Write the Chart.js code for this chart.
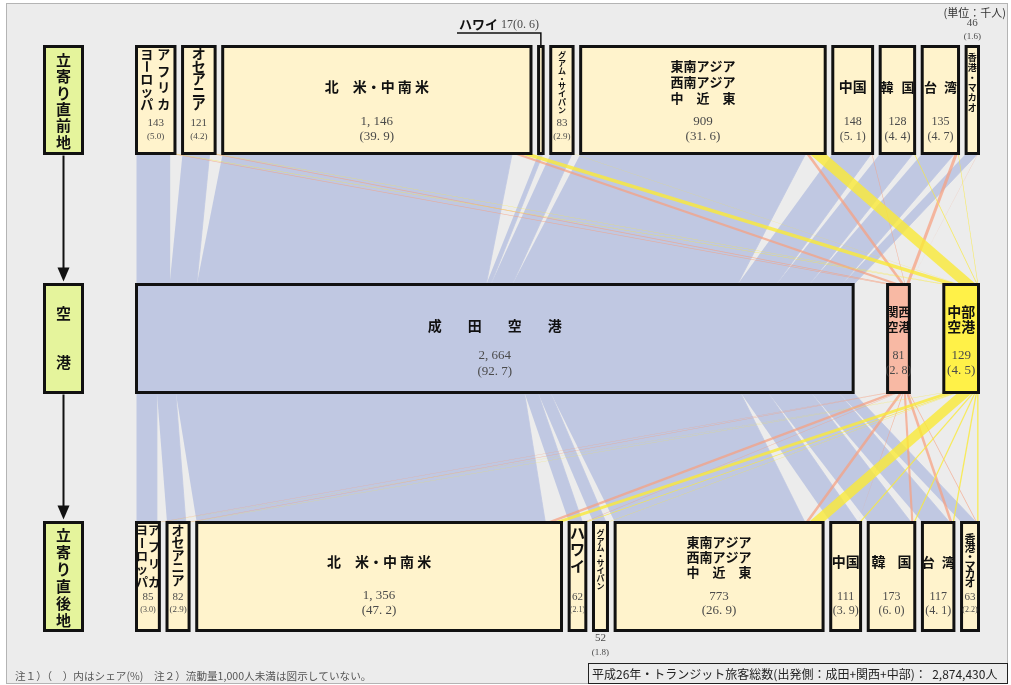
<!DOCTYPE html>
<html><head><meta charset="utf-8">
<script src="https://cdn.jsdelivr.net/npm/chart.js@4.4.1/dist/chart.umd.min.js"></script>
<style>
html,body{margin:0;padding:0;background:#fff;}
#frame{position:absolute;left:6px;top:3px;width:1002px;height:681px;background:#ececec;border:1px solid #b4b4b4;box-sizing:border-box;}
#wrap{position:absolute;left:0;top:0;width:1011px;height:685px;}
</style></head><body>
<div id="frame"></div>
<div id="wrap"><canvas id="c"></canvas></div>
<script>
// ===== DATA (unit: thousand persons) =====
const regions = ['アフリカ・ヨーロッパ','オセアニア','北米・中南米','ハワイ','グアム・サイパン','東南アジア・西南アジア・中近東','中国','韓国','台湾','香港・マカオ'];
const beforeTotals = [143,121,1146,17,83,909,148,128,135,46];
const beforeShares = [5.0,4.2,39.9,0.6,2.9,31.6,5.1,4.4,4.7,1.6];
const airports = ['成田空港','関西空港','中部空港'];
const airportTotals = [2664,81,129];
const airportShares = [92.7,2.8,4.5];
const afterTotals = [85,82,1356,62,52,773,111,173,117,63];
const afterShares = [3.0,2.9,47.2,2.1,1.8,26.9,3.9,6.0,4.1,2.2];
// estimated flows: region (before) -> airport
const inNarita = [123,101,1076,17,80,837,144,123,121,44];
const inKansai = [12,14,25,0,1,12,2,2,12,1];
const inChubu  = [8,6,45,0,2,60,2,3,2,1];
// estimated flows: airport -> region (after)
const outNarita = [76,70,1296,50,47,706,102,160,102,55];
const outKansai = [6,8,25,4,2,12,3,8,10,3];
const outChubu  = [3,4,35,8,3,55,6,5,5,5];
const totalPassengers = 2874430;

// ===== LAYOUT =====
const ROW_SPAN = 3130;
const PX_LEFT = 136.5, PX_RIGHT = 978.5;
const KPX = (PX_RIGHT - PX_LEFT) / ROW_SPAN;
const X_MIN = -PX_LEFT / KPX, X_MAX = (1011 - PX_LEFT) / KPX;
const pxToU = px => (px - PX_LEFT) / KPX;
const ROWS = { top:[46.5,153.5], mid:[284.5,392.5], bot:[522.5,630.5] };

function layoutRow(values){
  const sum = values.reduce((a,b)=>a+b,0);
  const gap = (ROW_SPAN - sum) / (values.length - 1);
  let x = 0;
  return values.map(v => { const r = {x0:x, x1:x+v}; x += v + gap; return r; });
}
const topBoxes = layoutRow(beforeTotals);
const midBoxes = layoutRow(airportTotals);
const botBoxes = layoutRow(afterTotals);

const COLORS = { cream:'#fff3cc', narita:'#c0c8e2', kansai:'#f8b9a4', chubu:'#fff148', green:'#e5f49c' };
const airportFill = [COLORS.narita, COLORS.kansai, COLORS.chubu];
const flowColors = ['#c0c8e2','rgba(247,160,128,0.72)','rgba(250,234,55,0.8)'];

function poly(pts, a){
  return {data:pts.map(([x,y])=>({x,y})), showLine:true, fill:'shape', backgroundColor:flowColors[a],
    borderColor:flowColors[a], borderWidth:a===0?0.8:0, pointRadius:0, pointHoverRadius:0};
}
function rect(x0,x1,y0,y1,fill,bw){
  return {data:[{x:x0,y:y0},{x:x1,y:y0},{x:x1,y:y1},{x:x0,y:y1},{x:x0,y:y0}], showLine:true, fill:'shape',
    backgroundColor:fill, borderColor:'#111', borderWidth:bw||3, borderJoinStyle:'miter', borderCapStyle:'square',
    pointRadius:0, pointHoverRadius:0};
}

const inFlows = [inNarita, inKansai, inChubu];
const outFlows = [outNarita, outKansai, outChubu];
const flowLayers = [[],[],[]];
function band(regionBoxes, flows, yRegion, yAirport){
  const cur = midBoxes.map(b=>b.x0);
  regionBoxes.forEach((box,i)=>{
    let c = box.x0;
    flows.forEach((f,a)=>{
      const v = f[i];
      if (v > 0) flowLayers[a].push(poly([[c,yRegion],[c+v,yRegion],[cur[a]+v,yAirport],[cur[a],yAirport]], a));
      c += v; cur[a] += v;
    });
  });
}
band(topBoxes, inFlows, ROWS.top[1], ROWS.mid[0]);
band(botBoxes, outFlows, ROWS.bot[0], ROWS.mid[1]);

const drawList = [...flowLayers[0], ...flowLayers[1], ...flowLayers[2]];
topBoxes.forEach(b=>drawList.push(rect(b.x0,b.x1,ROWS.top[0],ROWS.top[1],COLORS.cream)));
midBoxes.forEach((b,a)=>drawList.push(rect(b.x0,b.x1,ROWS.mid[0],ROWS.mid[1],airportFill[a])));
botBoxes.forEach(b=>drawList.push(rect(b.x0,b.x1,ROWS.bot[0],ROWS.bot[1],COLORS.cream)));
const GREEN_X = [pxToU(44.5), pxToU(82.5)];
[ROWS.top, ROWS.mid, ROWS.bot].forEach(r=>drawList.push(rect(GREEN_X[0],GREEN_X[1],r[0],r[1],COLORS.green)));
const datasets = drawList.slice().reverse(); // first dataset is drawn on top

// ===== LABEL SPECS =====
const TOP_LABELS = [
 {type:'v2', cols:[['アフリカ',8],['ヨーロッパ',-9]], y:[54,104], size:13, numY:[123,137], numSize:[11,9], compact:true},
 {type:'v', text:'オセアニア', y:[54,104], size:14, numY:[123,137], numSize:[11,9], compact:true},
 {type:'h', text:'北　米・中 南 米', y:87, size:14, numY:[122,137], numSize:[13,13]},
 {type:'callout'},
 {type:'v', text:'グアム・サイパン', y:[55,110], size:8, numY:[123,137], numSize:[11,9], compact:true},
 {type:'ml', lines:['東南アジア','西南アジア','中　近　東'], y:[66,82,98], size:13, numY:[122,137], numSize:[13,13]},
 {type:'h', text:'中国', y:87, size:14, numY:[122,137], numSize:[12,12]},
 {type:'sp', text:'韓国', pitch:21, y:87, size:13, numY:[122,137], numSize:[12,12]},
 {type:'sp', text:'台湾', pitch:20, y:87, size:13, numY:[122,137], numSize:[12,12]},
 {type:'v', text:'香港・マカオ', y:[58,108], size:9, numY:[23,37], numSize:[11,9], compact:true}
];
const BOT_LABELS = [
 {type:'v2', cols:[['アフリカ',6],['ヨーロッパ',-6]], y:[530,582], size:12, numY:[597,610], numSize:[11,8], compact:true},
 {type:'v', text:'オセアニア', y:[530,580], size:13, numY:[597,610], numSize:[11,9], compact:true},
 {type:'h', text:'北　米・中 南 米', y:562, size:14, numY:[596,611], numSize:[13,13]},
 {type:'v', text:'ハワイ', y:[533,566], size:15, numY:[597,610], numSize:[11,8], compact:true},
 {type:'v', text:'グアム・サイパン', y:[533,586], size:8, numY:[638,653], numSize:[11,9], compact:true},
 {type:'ml', lines:['東南アジア','西南アジア','中　近　東'], y:[542,557,572], size:13, numY:[597,611], numSize:[13,13]},
 {type:'h', text:'中国', y:562, size:14, numY:[597,611], numSize:[12,12]},
 {type:'sp', text:'韓国', pitch:26, y:562, size:14, numY:[597,611], numSize:[12,12]},
 {type:'sp', text:'台湾', pitch:20, y:562, size:13, numY:[597,611], numSize:[12,12]},
 {type:'v', text:'香港・マカオ', y:[539,583], size:11, numY:[597,610], numSize:[11,8], compact:true}
];
const MID_LABELS = [
 {type:'sp', text:'成田空港', pitch:40, y:326, size:14, numY:[356,372], numSize:[13,13]},
 {type:'ml', lines:['関西','空港'], y:[312,327], size:12, numY:[356,371], numSize:[12,12]},
 {type:'ml', lines:['中部','空港'], y:[312,327], size:14, numY:[356,371], numSize:[13,13]}
];
const SIDE_LABELS = [['立寄り直前地',[60,142]],['空港',[313,362]],['立寄り直後地',[535,620]]];

const JP = '"Noto Sans CJK JP", "Noto Sans", sans-serif';
const SERIF = '"Liberation Serif", "DejaVu Serif", serif';
const fmtNum = v => v >= 1000 ? Math.floor(v/1000) + ', ' + String(v%1000).padStart(3,'0') : String(v);
const fmtShare = (s, compact) => '(' + (compact ? s.toFixed(1) : s.toFixed(1).replace('.', '. ')) + ')';

function txt(ctx, s, cx, cy, font, color, align){
  ctx.font = font; ctx.fillStyle = color || '#111'; ctx.textAlign = align || 'center'; ctx.textBaseline = 'middle';
  ctx.fillText(s, cx, cy);
}
function vtxt(ctx, s, cx, y0, y1, font, color){
  const ch = [...s]; const step = ch.length > 1 ? (y1 - y0)/(ch.length - 1) : 0;
  ch.forEach((c,i)=>{
    const cy = y0 + i*step;
    if (c === 'ー'){ ctx.save(); ctx.translate(cx, cy); ctx.rotate(Math.PI/2); txt(ctx, c, 0, 0, font, color); ctx.restore(); }
    else txt(ctx, c, cx, cy, font, color);
  });
}
function spaced(ctx, s, cx, cy, pitch, font, color){
  const ch = [...s]; const n = ch.length;
  ch.forEach((c,i)=>txt(ctx, c, cx + (i - (n-1)/2)*pitch, cy, font, color));
}
function fitText(ctx, s, x, cy, width, maxSize, family, color){
  let size = maxSize; ctx.font = size + 'px ' + family;
  const w = ctx.measureText(s).width; if (w > width) size = size * width / w;
  txt(ctx, s, x, cy, size + 'px ' + family, color, 'left');
}

function drawBoxLabels(ctx, X, boxes, specs, totals, shares){
  specs.forEach((sp, i)=>{
    const b = boxes[i]; const cx = (X(b.x0) + X(b.x1))/2;
    const bold = 'bold ' + sp.size + 'px ' + JP;
    if (sp.type === 'callout') return;
    if (sp.type === 'v2') sp.cols.forEach(([t,dx])=>vtxt(ctx, t, cx+dx, sp.y[0], sp.y[1], bold));
    if (sp.type === 'v') vtxt(ctx, sp.text, cx, sp.y[0], sp.y[1], bold);
    if (sp.type === 'h') txt(ctx, sp.text, cx, sp.y, bold);
    if (sp.type === 'sp') spaced(ctx, sp.text, cx, sp.y, sp.pitch, bold);
    if (sp.type === 'ml'){
      ctx.font = bold; const w = Math.max(...sp.lines.map(l=>ctx.measureText(l).width));
      sp.lines.forEach((l,k)=>txt(ctx, l, cx - w/2, sp.y[k], bold, '#111', 'left'));
    }
    txt(ctx, fmtNum(totals[i]), cx, sp.numY[0], sp.numSize[0] + 'px ' + SERIF, '#4a4a4a');
    txt(ctx, fmtShare(shares[i], sp.compact), cx, sp.numY[1], sp.numSize[1] + 'px ' + SERIF, '#4a4a4a');
  });
}

const labelPlugin = {
  id:'labels',
  afterDatasetsDraw(chart){
    const ctx = chart.ctx; const xs = chart.scales.x, ys = chart.scales.y;
    const X = v => xs.getPixelForValue(v), Y = v => ys.getPixelForValue(v);
    ctx.save();
    drawBoxLabels(ctx, X, topBoxes, TOP_LABELS, beforeTotals, beforeShares);
    drawBoxLabels(ctx, X, midBoxes, MID_LABELS, airportTotals, airportShares);
    drawBoxLabels(ctx, X, botBoxes, BOT_LABELS, afterTotals, afterShares);
    // Hawaii callout (top row)
    const h = topBoxes[3]; const hx = (X(h.x0) + X(h.x1))/2;
    txt(ctx, 'ハワイ', 459, 24, 'bold 13px ' + JP, '#111', 'left');
    ctx.font = 'bold 13px ' + JP; const hw = ctx.measureText('ハワイ').width;
    txt(ctx, beforeTotals[3] + fmtShare(beforeShares[3], false), 459 + hw + 3, 25, '12px ' + SERIF, '#4a4a4a', 'left');
    ctx.strokeStyle = '#111'; ctx.lineWidth = 1.5;
    ctx.beginPath(); ctx.moveTo(457, 33); ctx.lineTo(hx, 33); ctx.lineTo(hx, Y(ROWS.top[0])); ctx.stroke();
    // side labels
    const gx = (X(GREEN_X[0]) + X(GREEN_X[1]))/2;
    SIDE_LABELS.forEach(([t, yy])=>vtxt(ctx, t, gx, yy[0], yy[1], 'bold 15px ' + JP));
    // arrows
    [[Y(ROWS.top[1]) + 2, Y(ROWS.mid[0]) - 3], [Y(ROWS.mid[1]) + 2, Y(ROWS.bot[0]) - 3]].forEach(([a,b])=>{
      ctx.strokeStyle = '#111'; ctx.lineWidth = 2;
      ctx.beginPath(); ctx.moveTo(gx, a); ctx.lineTo(gx, b - 12); ctx.stroke();
      ctx.fillStyle = '#111'; ctx.beginPath(); ctx.moveTo(gx - 6, b - 14); ctx.lineTo(gx + 6, b - 14); ctx.lineTo(gx, b); ctx.closePath(); ctx.fill();
    });
    // unit note
    txt(ctx, '(単位：千人)', 1006, 13, '11px ' + JP, '#333', 'right');
    // footnotes
    fitText(ctx, '注１）（　）内はシェア(%)　注２）流動量1,000人未満は図示していない。', 15, 676, 357, 11, JP, '#555');
    ctx.strokeStyle = '#222'; ctx.lineWidth = 1; ctx.strokeRect(588.5, 663.5, 419, 20);
    fitText(ctx, '平成26年・トランジット旅客総数(出発側：成田+関西+中部)：  ' + totalPassengers.toLocaleString('en-US') + '人', 592, 674, 412, 12, JP, '#222');
    ctx.restore();
  }
};

new Chart(document.getElementById('c'), {
  type:'scatter',
  data:{datasets},
  options:{
    responsive:true, maintainAspectRatio:false, animation:false, events:[],
    layout:{padding:0},
    scales:{
      x:{type:'linear', min:X_MIN, max:X_MAX, display:false},
      y:{type:'linear', min:0, max:685, reverse:true, display:false}
    },
    plugins:{legend:{display:false}, tooltip:{enabled:false}}
  },
  plugins:[labelPlugin]
});
</script>
</body></html>
